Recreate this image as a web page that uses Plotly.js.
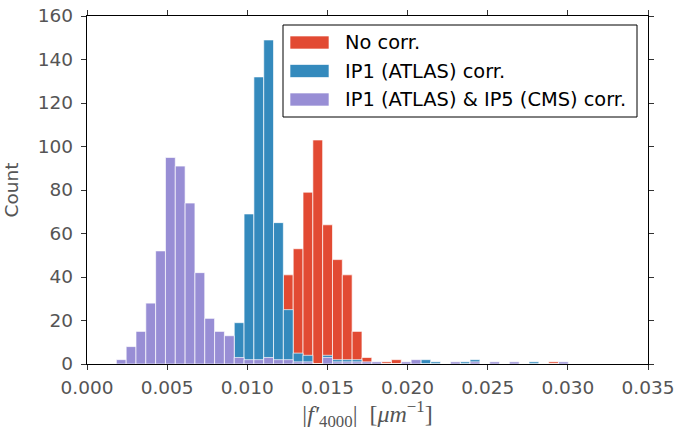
<!DOCTYPE html>
<html>
<head>
<meta charset="utf-8">
<script src="https://cdn.plot.ly/plotly-3.0.1.min.js"></script>
<style>html,body{margin:0;padding:0;background:#fff;}#chart{width:677px;height:431px;}</style>
</head>
<body>
<div id="chart"></div>
<script>
// Histogram bins (shared by all three series)
const BIN_START = 0.00183;
const BIN_WIDTH = 0.000613;

// Series names and colours
const seriesNames = ["No corr.", "IP1 (ATLAS) corr.", "IP1 (ATLAS) & IP5 (CMS) corr."];
const seriesColors = ["#E24A33", "#348ABD", "#988ED5"];

// Counts per bin (46 bins)
const countsNoCorr = [
  0,0,0,0,0,0,0,0,0,0,
  0,0,0,0,0,0,0,41,53,79,
  103,64,48,41,15,3,0,1,2,0,
  0,0,0,0,0,0,0,0,0,0,
  0,0,0,0,1,0
];
const countsIP1 = [
  0,0,0,0,0,0,0,0,0,0,
  0,0,19,69,132,149,65,25,5,4,
  0,4,2,2,2,0,0,0,0,0,
  0,2,1,0,0,1,2,0,0,0,
  0,0,1,0,0,0
];
const countsIP1IP5 = [
  2,8,15,28,52,95,91,74,42,21,
  15,13,3,2,2,3,2,2,1,1,
  0,3,1,1,1,1,1,0,0,1,
  2,0,0,0,1,0,1,0,1,0,
  1,0,0,0,0,1
];

const xTickVals = [0.000,0.005,0.010,0.015,0.020,0.025,0.030,0.035];
const yTickVals = [0,20,40,60,80,100,120,140,160];

const binCenters = countsNoCorr.map((_, i) => BIN_START + (i + 0.5) * BIN_WIDTH);
const allCounts = [countsNoCorr, countsIP1, countsIP1IP5];

const traces = allCounts.map((c, k) => ({
  type: "bar",
  x: binCenters,
  y: c,
  width: BIN_WIDTH,
  name: seriesNames[k],
  marker: {color: seriesColors[k], line: {color: "rgba(255,255,255,0.85)", width: 0.8}},
  showlegend: false,
  hoverinfo: "x+y"
}));

// Plot area in pixels
const W = 677, H = 431;
const M = {l: 87, r: 29, t: 16, b: 67};
const PW = W - M.l - M.r, PH = H - M.t - M.b;
const px = v => (v - M.l) / PW, py = v => 1 - (v - M.t) / PH;

// Manual legend (matplotlib-style wide patches)
const legX0 = 283, legY0 = 25, legX1 = 637, legY1 = 117;
const shapes = [{
  type: "rect", xref: "paper", yref: "paper",
  x0: px(legX0), x1: px(legX1), y0: py(legY1), y1: py(legY0),
  line: {color: "#000", width: 1}, fillcolor: "#fff", layer: "above"
}];
const annotations = [];
const rowY = [42.5, 71, 99.5];
seriesNames.forEach((n, k) => {
  shapes.push({
    type: "rect", xref: "paper", yref: "paper",
    x0: px(290), x1: px(329), y0: py(rowY[k] + 6.5), y1: py(rowY[k] - 6.5),
    line: {color: "rgba(255,255,255,0.8)", width: 0.8}, fillcolor: seriesColors[k], layer: "above"
  });
  annotations.push({
    xref: "paper", yref: "paper", x: px(343), y: py(rowY[k]),
    xanchor: "left", yanchor: "middle", showarrow: false,
    text: n, font: {family: "DejaVu Sans", size: 19.4, color: "#000"}
  });
});

const layout = {
  width: W, height: H,
  margin: {l: M.l, r: M.r, t: M.t, b: M.b, pad: 0},
  paper_bgcolor: "#fff", plot_bgcolor: "#fff",
  barmode: "overlay", bargap: 0,
  font: {family: "DejaVu Sans", color: "#555555"},
  xaxis: {
    range: [0, 0.035], tickvals: xTickVals, tickformat: ".3f",
    showgrid: false, zeroline: false,
    showline: true, linecolor: "#000", linewidth: 1.3, mirror: "ticks",
    ticks: "outside", ticklen: 5, tickwidth: 1, tickcolor: "#333",
    tickfont: {family: "DejaVu Sans", size: 18.5, color: "#555555"},
    ticklabelstandoff: 1,
    title: {text: "|<i>f′</i><sub>4000</sub>|  [<i>μm</i><sup>−1</sup>]",
            font: {family: "Liberation Serif", size: 24, color: "#555555"}, standoff: 17}
  },
  yaxis: {
    range: [0, 160], tickvals: yTickVals,
    showgrid: false, zeroline: false,
    showline: true, linecolor: "#000", linewidth: 1.3, mirror: "ticks",
    ticks: "outside", ticklen: 5, tickwidth: 1, tickcolor: "#333",
    tickfont: {family: "DejaVu Sans", size: 18.5, color: "#555555"},
    ticklabelstandoff: 4,
    title: {text: "Count", font: {family: "DejaVu Sans", size: 18.5, color: "#555555"}, standoff: 14}
  },
  shapes: shapes,
  annotations: annotations,
  showlegend: false
};

Plotly.newPlot("chart", traces, layout, {displayModeBar: false, staticPlot: true});
</script>
</body>
</html>
